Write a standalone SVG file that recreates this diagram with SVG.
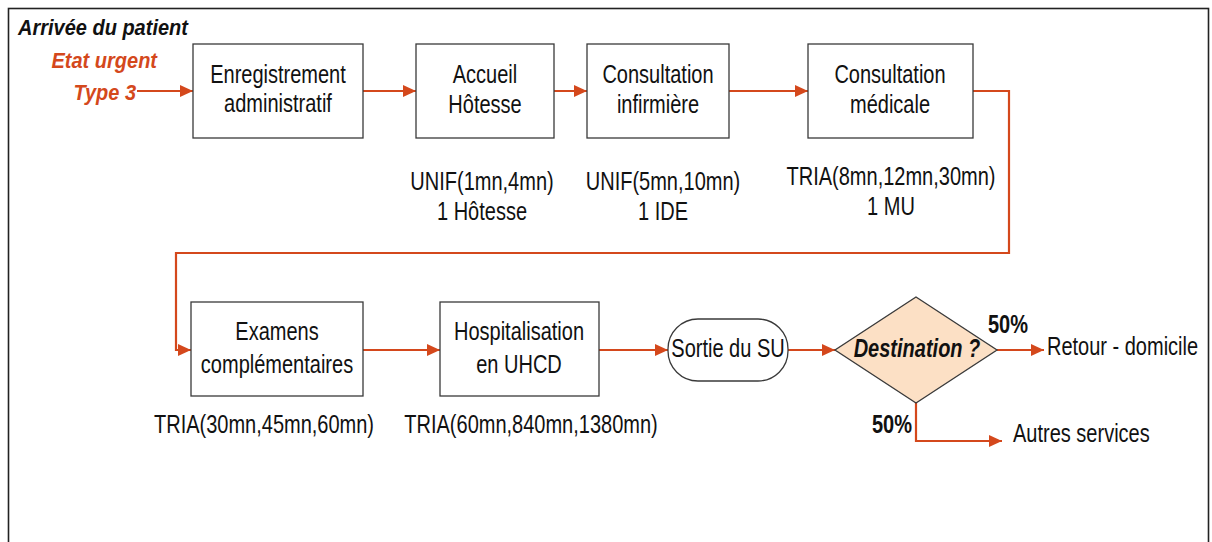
<svg xmlns="http://www.w3.org/2000/svg" width="1212" height="542" viewBox="0 0 1212 542">
<style>
.box{fill:#fff;stroke:#3a3a3a;stroke-width:1.3}
.t{font-family:"Liberation Sans",Arial,sans-serif;font-size:20px;fill:#111;text-anchor:middle}
.l{font-family:"Liberation Sans",Arial,sans-serif;font-size:20px;fill:#111}
.bi{font-family:"Liberation Sans",Arial,sans-serif;font-size:20px;font-weight:bold;font-style:italic}
.b{font-family:"Liberation Sans",Arial,sans-serif;font-size:20px;font-weight:bold;fill:#111}
.o{fill:#D4481C}
.c{fill:none;stroke:#D4481C;stroke-width:2.2}
</style>
<defs>
<marker id="ah" markerUnits="userSpaceOnUse" markerWidth="14" markerHeight="14" refX="13" refY="7" orient="auto">
<path d="M0,1 L13,7 L0,13 z" fill="#D4481C"/>
</marker>
</defs>
<rect x="8.5" y="8.5" width="1200" height="540" fill="#fff" stroke="#222" stroke-width="1.6"/>

<g id="start">
<text class="bi" fill="#111" transform="translate(18,35) scale(1,1.12)">Arrivée du patient</text>
<text class="bi o" text-anchor="end" transform="translate(157,68) scale(1,1.12)">Etat urgent</text>
<text class="bi o" text-anchor="end" transform="translate(136,100) scale(1,1.12)">Type 3</text>
</g>

<g id="connectors">
<path class="c" d="M137,91 H193" marker-end="url(#ah)"/>
<path class="c" d="M363,91 H416" marker-end="url(#ah)"/>
<path class="c" d="M554,91 H587" marker-end="url(#ah)"/>
<path class="c" d="M729,91 H808" marker-end="url(#ah)"/>
<path class="c" d="M973,91 H1009 V253 H176 V350 H191" marker-end="url(#ah)"/>
<path class="c" d="M363,350 H440" marker-end="url(#ah)"/>
<path class="c" d="M599,350 H668" marker-end="url(#ah)"/>
<path class="c" d="M788,350 H835" marker-end="url(#ah)"/>
<path class="c" d="M997,350 H1044" marker-end="url(#ah)"/>
<path class="c" d="M916,401 V441 H1002" marker-end="url(#ah)"/>
</g>

<g id="enregistrement">
<rect class="box" x="193" y="44" width="170" height="94"/>
<text class="t" transform="translate(278,83) scale(1,1.28)">Enregistrement</text>
<text class="t" transform="translate(278,112) scale(1,1.28)">administratif</text>
</g>

<g id="accueil">
<rect class="box" x="416" y="44" width="138" height="94"/>
<text class="t" transform="translate(485,83) scale(1,1.28)">Accueil</text>
<text class="t" transform="translate(485,113) scale(1,1.28)">Hôtesse</text>
<text class="t" transform="translate(482,190) scale(1,1.28)">UNIF(1mn,4mn)</text>
<text class="t" transform="translate(482,220) scale(1,1.28)">1 Hôtesse</text>
</g>

<g id="consultation-infirmiere">
<rect class="box" x="587" y="44" width="142" height="94"/>
<text class="t" transform="translate(658,83) scale(1,1.28)">Consultation</text>
<text class="t" transform="translate(658,113) scale(1,1.28)">infirmière</text>
<text class="t" transform="translate(663,190) scale(1,1.28)">UNIF(5mn,10mn)</text>
<text class="t" transform="translate(663,220) scale(1,1.28)">1 IDE</text>
</g>

<g id="consultation-medicale">
<rect class="box" x="808" y="44" width="165" height="94"/>
<text class="t" transform="translate(890,83) scale(1,1.28)">Consultation</text>
<text class="t" transform="translate(890,113) scale(1,1.28)">médicale</text>
<text class="t" transform="translate(891,185) scale(1,1.28)">TRIA(8mn,12mn,30mn)</text>
<text class="t" transform="translate(891,215) scale(1,1.28)">1 MU</text>
</g>

<g id="examens">
<rect class="box" x="191" y="302" width="172" height="94"/>
<text class="t" transform="translate(277,340) scale(1,1.28)">Examens</text>
<text class="t" transform="translate(277,373) scale(1,1.28)">complémentaires</text>
<text class="t" transform="translate(264,433) scale(1,1.28)">TRIA(30mn,45mn,60mn)</text>
</g>

<g id="hospitalisation">
<rect class="box" x="440" y="302" width="159" height="94"/>
<text class="t" transform="translate(519,340) scale(1,1.28)">Hospitalisation</text>
<text class="t" transform="translate(519,373) scale(1,1.28)">en UHCD</text>
<text class="t" transform="translate(531,433) scale(1,1.28)">TRIA(60mn,840mn,1380mn)</text>
</g>

<g id="sortie">
<rect class="box" x="668" y="319" width="120" height="62" rx="30" ry="30"/>
<text class="t" transform="translate(728,357) scale(1,1.28)">Sortie du SU</text>
</g>

<g id="destination">
<polygon points="916,297 997,350 916,403 835,350" fill="#FCE0C5" stroke="#3a3a3a" stroke-width="1.3"/>
<text class="bi" fill="#111" text-anchor="middle" transform="translate(917,357) scale(1,1.28)">Destination ?</text>
<text class="b" transform="translate(988,333) scale(1,1.28)">50%</text>
<text class="b" transform="translate(872,433) scale(1,1.28)">50%</text>
</g>

<g id="retour">
<text class="l" transform="translate(1047,355) scale(1,1.25)">Retour - domicile</text>
</g>

<g id="autres">
<text class="l" transform="translate(1013,442) scale(1,1.28)">Autres services</text>
</g>
</svg>
